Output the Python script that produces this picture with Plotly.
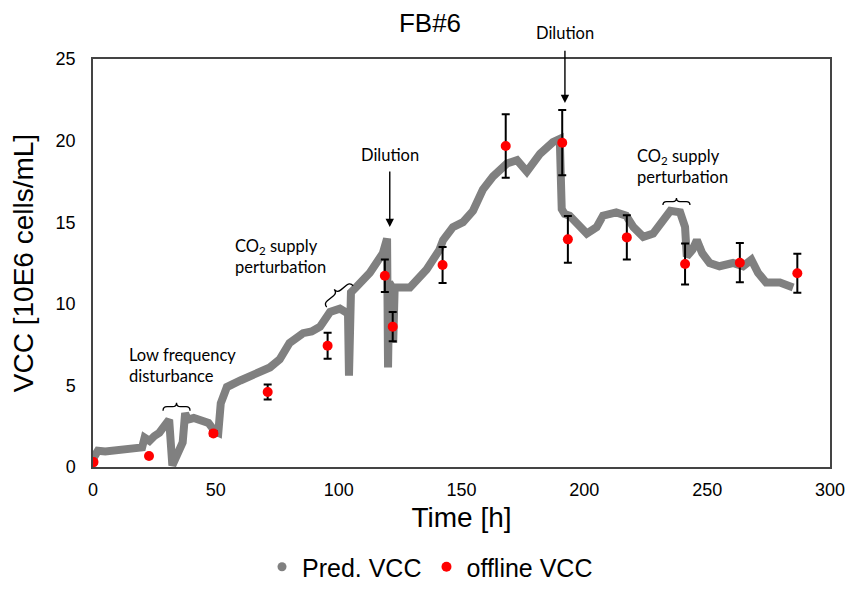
import plotly.graph_objects as go
import math

# ---------------- data ----------------
pred_time = [0, 1, 2, 5, 10, 15, 20, 21, 23, 25, 27, 29, 31, 32.3, 35.5, 36.5, 37.5, 38.5,
             41, 44, 47, 49.5, 51, 52, 54.5, 60, 65, 70, 72, 76, 80, 85.5, 89, 92.4, 96.5,
             100.5, 102.6, 103.8, 104.2, 105, 107, 112.7, 118, 119.7, 120.1, 120.6, 121.8,
             122.2, 122.8, 125, 129, 135.8, 141, 142.5, 146.5, 150.6, 154.7, 158.7, 162.8,
             168.5, 172.6, 176.6, 182, 187.2, 190, 190.8, 192, 194, 198, 201, 205, 207.6,
             213, 217, 220, 224, 228, 232, 235, 239, 241, 241.7, 244, 245.8, 248, 251, 255,
             260.5, 264.6, 268, 270.7, 274, 279.6, 285]
pred_vcc = [0.5, 0.8, 1.0, 0.95, 1.0, 1.1, 1.2, 1.8, 1.6, 1.9, 2.1, 2.5, 2.9, 0.1, 1.3, 1.5, 3.3, 2.9,
            3.0, 2.9, 2.7, 2.2, 2.1, 3.9, 4.9, 5.3, 5.6, 5.9, 6.1, 6.6, 7.6, 8.2, 8.3, 8.6, 9.5,
            9.7, 9.5, 9.4, 5.6, 10.7, 11.0, 11.9, 13.1, 14.0, 6.1, 11.3, 11.0,
            7.6, 11.0, 11.0, 11.0, 12.1, 13.3, 13.9, 14.7, 15.0, 15.7, 17.0, 17.8,
            18.6, 18.8, 18.1, 19.2, 19.9, 20.1, 15.8, 15.5, 15.4, 14.7, 14.3, 14.7, 15.4,
            15.6, 15.4, 14.7, 14.1, 14.3, 15.1, 15.7, 15.6, 14.7, 12.9, 13.3, 13.9, 13.1, 12.5, 12.3,
            12.5, 12.3, 12.7, 11.9, 11.3, 11.3, 11.0]

off_time = [0.2, 22.8, 49, 71.1, 95.5, 118.8, 122, 142.3, 168, 191, 193.3, 217.3, 241, 263.3, 286.7]
off_vcc = [0.3, 0.67, 2.06, 4.6, 7.43, 11.72, 8.6, 12.38, 19.67, 19.87, 13.95, 14.07, 12.44, 12.52, 11.87]
off_err = [0.1, 0.1, 0.15, 0.46, 0.8, 1.0, 0.9, 1.1, 1.95, 2.0, 1.43, 1.35, 1.25, 1.2, 1.2]

x_ticks = [0, 50, 100, 150, 200, 250, 300]
y_ticks = [0, 5, 10, 15, 20, 25]

# ---------------- layout geometry ----------------
W, H = 860, 590
ML, MR, MT, MB = 93, 30, 59, 123
XR = [0, 300]
YR = [0, 25]
SX = (W - ML - MR) / (XR[1] - XR[0])
SY = (H - MT - MB) / (YR[1] - YR[0])

TICKFONT = "Liberation Sans, Arial, sans-serif"
NOTEFONT = "Lato, Open Sans, sans-serif"
GRAY = "#808080"

fig = go.Figure()

fig.add_trace(go.Scatter(x=pred_time, y=pred_vcc, mode="lines",
                         line=dict(color=GRAY, width=8), showlegend=False,
                         hoverinfo="x+y", name="Pred. VCC"))
# legend entry (dot) for predicted VCC
fig.add_trace(go.Scatter(x=[None], y=[None], mode="markers",
                         marker=dict(color=GRAY, size=9), name="Pred. VCC"))
fig.add_trace(go.Scatter(x=off_time, y=off_vcc, mode="markers",
                         marker=dict(color="#ff0000", size=10),
                         error_y=dict(type="data", array=off_err, visible=True,
                                      color="black", thickness=2, width=4),
                         name="offline VCC"))


# ---------------- braces ----------------
def brace_path(t, v, L, h, ang):
    """curly brace centred at data (t, v); L, h in pixels; ang in degrees."""
    a = math.radians(ang)
    ex, ey = math.cos(a), -math.sin(a)
    nx, ny = -math.sin(a), -math.cos(a)
    cx = ML + (t - XR[0]) * SX
    cy = MT + (YR[1] - v) * SY

    def P(u, w):
        px = cx + u * ex + w * nx
        py = cy + u * ey + w * ny
        return f"{XR[0] + (px - ML) / SX:.4f},{YR[1] - (py - MT) / SY:.4f}"

    hl = L / 2
    hh = h / 2
    return (f"M{P(-hl, 0)} Q{P(-hl, hh)} {P(-hl + hh, hh)} L{P(-hh, hh)} "
            f"Q{P(0, hh)} {P(0, h)} Q{P(0, hh)} {P(hh, hh)} L{P(hl - hh, hh)} "
            f"Q{P(hl, hh)} {P(hl, 0)}")


for (bt, bv, bl, bh, ba) in [(34, 3.45, 27, 8, 0), (100.5, 10.45, 34, 9, 39), (237.5, 16.05, 27, 7, 0)]:
    fig.add_shape(type="path", path=brace_path(bt, bv, bl, bh, ba), xref="x", yref="y",
                  line=dict(color="black", width=1.3))

# ---------------- annotations ----------------
notes = [
    dict(x=13.8, y=6.25, text="Low frequency<br>disturbance"),
    dict(x=57, y=12.9, text="CO<sub>2</sub> supply<br>perturbation"),
    dict(x=220.6, y=18.44, text="CO<sub>2</sub> supply<br>perturbation"),
]
for n in notes:
    fig.add_annotation(x=n["x"], y=n["y"], text=n["text"], showarrow=False,
                       xanchor="left", yanchor="middle", align="left",
                       font=dict(family=NOTEFONT, size=16.5, color="black"))


def vpaper(v):
    return (v - YR[0]) / (YR[1] - YR[0])


for (tx, tv, tip_v, tail_v) in [(120.8, 19.1, 14.7, 18.2), (192.1, 26.6, 22.3, 25.6)]:
    fig.add_annotation(x=tx, y=vpaper(tv), yref="paper", text="Dilution", showarrow=False,
                       xanchor="center", yanchor="middle",
                       font=dict(family=NOTEFONT, size=16.5, color="black"))
    fig.add_annotation(x=tx, y=tip_v, ax=tx, ay=tail_v, axref="x", ayref="y",
                       text="", showarrow=True, arrowhead=2, arrowsize=1.2,
                       arrowwidth=1.4, arrowcolor="black", standoff=0, startstandoff=0)

fig.update_layout(
    width=W, height=H,
    margin=dict(l=ML, r=MR, t=MT, b=MB),
    paper_bgcolor="white", plot_bgcolor="white",
    title=dict(text="FB#6", x=0.5, xref="container", y=1 - 23 / H, yref="container",
               xanchor="center", yanchor="middle",
               font=dict(family=TICKFONT, size=26, color="black")),
    legend=dict(orientation="h", x=0.5, xanchor="center", xref="container",
                y=0.0, yref="container", yanchor="bottom",
                font=dict(family=TICKFONT, size=25, color="black"),
                itemwidth=30, traceorder="normal"),
    font=dict(family=TICKFONT, color="black"),
)
fig.update_xaxes(range=XR, tickvals=x_ticks, showgrid=False, zeroline=False,
                 showline=True, mirror=True, linecolor="#444", linewidth=1.5,
                 ticks="outside", ticklen=6, tickcolor="rgba(0,0,0,0)",
                 tickfont=dict(family=TICKFONT, size=18, color="black"),
                 title=dict(text="Time [h]", standoff=8,
                            font=dict(family=TICKFONT, size=28, color="black")))
fig.update_yaxes(range=YR, tickvals=y_ticks, showgrid=False, zeroline=False,
                 showline=True, mirror=True, linecolor="#444", linewidth=1.5,
                 ticks="outside", ticklen=12, tickcolor="rgba(0,0,0,0)",
                 tickfont=dict(family=TICKFONT, size=18, color="black"),
                 title=dict(text="VCC [10E6 cells/mL]", standoff=14,
                            font=dict(family=TICKFONT, size=28, color="black")))

fig.write_html("out.html")
